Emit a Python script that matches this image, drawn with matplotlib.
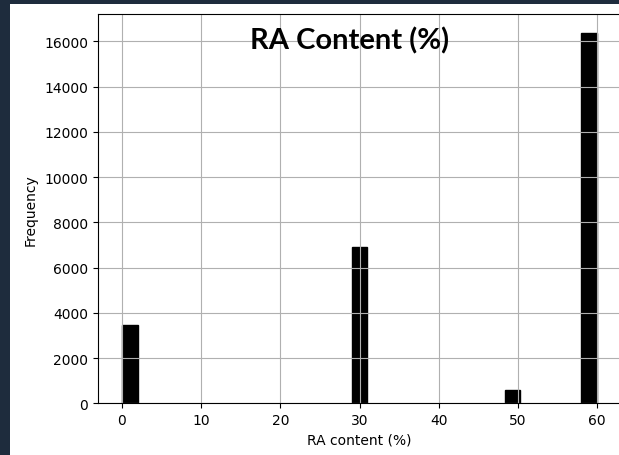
import matplotlib.pyplot as plt
from matplotlib.patches import Rectangle

# histogram bins (left edge, width 2) and counts
bin_left = [0, 29, 48.3, 58]
counts = [3470, 6890, 580, 16390]
bin_width = 2

fig = plt.figure(figsize=(6.19, 4.56), dpi=100, facecolor='#1e2c3d')
# white card behind the chart
fig.patches.append(Rectangle((10 / 619, 0), 1, 1 - 5 / 456, transform=fig.transFigure,
                             facecolor='white', edgecolor='none', zorder=-1))

ax = fig.add_axes([98 / 619, 51.7 / 456, 523 / 619, 389.3 / 456])
ax.set_zorder(1)
ax.bar(bin_left, counts, width=bin_width, align='edge', color='black', edgecolor='black')
ax.grid(True)
ax.spines['right'].set_visible(False)  # cut off by the screenshot
ax.set_xlabel('RA content (%)', fontsize=10)
ax.set_ylabel('Frequency', fontsize=10, labelpad=5)
ax.tick_params(labelsize=10)

fig.text(349.5 / 619, (456 - 49.5) / 456, 'RA Content (%)', ha='center', va='baseline',
         fontsize=21, fontweight='bold', family='Lato', zorder=5)

fig.savefig('out.png', dpi=100, facecolor=fig.get_facecolor())
